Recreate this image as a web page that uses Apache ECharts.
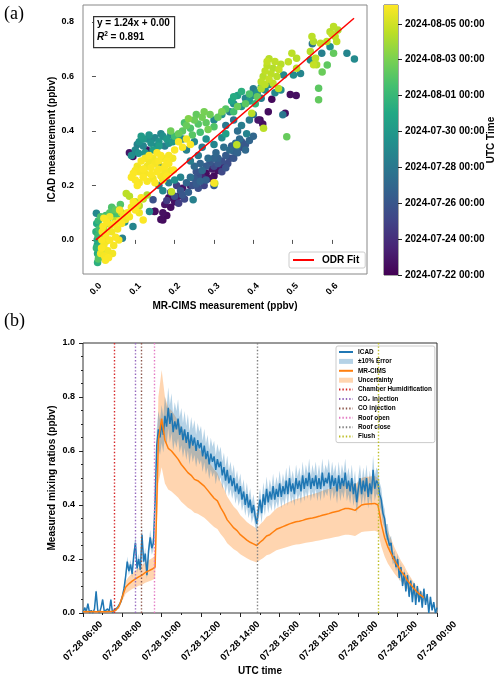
<!DOCTYPE html>
<html><head><meta charset="utf-8">
<script src="https://cdn.jsdelivr.net/npm/echarts@6/dist/echarts.min.js"></script>
<style>html,body{margin:0;padding:0;background:#fff}#c{width:500px;height:682px}</style>
</head><body><div id="c"></div>
<script>
const FONT = 'Liberation Sans, Arial, sans-serif';

// ---------- Panel (a): scatter MR-CIMS vs ICAD, coloured by time (days since 2024-07-22) ----------
const scatterXTicks = [0, 0.1, 0.2, 0.3, 0.4, 0.5, 0.6];
const scatterYTicks = [0, 0.2, 0.4, 0.6, 0.8];
const colorbarTickDays = [0, 2, 4, 6, 8, 10, 12, 14];
const colorbarTickLabels = ['2024-07-22 00:00','2024-07-24 00:00','2024-07-26 00:00','2024-07-28 00:00',
  '2024-07-30 00:00','2024-08-01 00:00','2024-08-03 00:00','2024-08-05 00:00'];
const colorbarMaxDay = 15.05;
const viridis = ['#440154','#482475','#414487','#355f8d','#2a788e','#21918c','#22a884','#44bf70','#7ad151','#bddf26','#fde725'];
const odrSlope = 1.24, odrIntercept = 0.00, odrR2 = 0.891;
const odrXRange = [0, 0.656];

// [MR-CIMS, ICAD, day]
const pointsPurple = [
 [0.165,0.075,0.5],[0.17,0.1,0.6],[0.18,0.09,0.4],[0.175,0.13,0.8],[0.19,0.12,0.5],[0.2,0.14,0.7],
 [0.185,0.155,0.3],[0.15,0.105,0.6],[0.21,0.16,1.0],[0.22,0.19,0.9],[0.24,0.2,1.2],[0.28,0.245,0.5],
 [0.29,0.225,0.7],[0.3,0.235,0.4],[0.31,0.255,0.6],[0.295,0.26,0.9],[0.27,0.23,1.5],[0.32,0.27,1.3],
 [0.094,0.306,0.5],[0.129,0.33,0.6],[0.085,0.32,0.9],
 [0.417,0.44,0.4],[0.424,0.425,0.6],[0.438,0.47,0.5],[0.447,0.516,0.3],[0.481,0.465,0.7],
 [0.494,0.534,0.5],[0.509,0.53,0.6],[0.412,0.44,1.0],[0.149,0.104,0.5],[0.17,0.073,0.4]
];
const pointsBlue = [
 [0.2,0.16,3.5],[0.215,0.18,4],[0.225,0.15,3.2],[0.235,0.175,4.5],[0.245,0.2,3.8],[0.23,0.21,5],
 [0.25,0.225,4.2],[0.26,0.19,3.6],[0.265,0.215,4.8],[0.275,0.2,3],[0.28,0.27,4.4],[0.255,0.25,3.9],
 [0.29,0.285,4.1],[0.3,0.27,3.4],[0.31,0.3,4.6],[0.32,0.29,3.7],[0.33,0.31,4.3],[0.34,0.33,5.2],
 [0.335,0.28,3.5],[0.35,0.3,4],[0.36,0.32,4.8],[0.37,0.34,3.6],[0.355,0.355,5.4],[0.345,0.345,4.5],
 [0.38,0.35,4.2],[0.24,0.23,5.5],[0.27,0.255,5.1],[0.205,0.2,2.8],[0.19,0.175,3.1],[0.18,0.145,2.6],
 [0.21,0.135,2.7],[0.32,0.25,3.3],[0.305,0.32,5],[0.285,0.3,5.3],[0.265,0.28,4.9],[0.25,0.27,5.2],
 [0.325,0.34,5.5],[0.365,0.37,5.3],[0.145,0.147,3.8],[0.3,0.2,4.4],
 [0.22,0.165,4],[0.26,0.235,3.7],[0.28,0.22,4.6],[0.31,0.28,4.2],[0.33,0.265,3.9],[0.35,0.325,4.7],
 [0.37,0.36,4.1],[0.39,0.365,4.9],[0.3,0.3,4.8],[0.255,0.205,4.3],[0.34,0.3,3.6],[0.38,0.33,5.1],
 [0.36,0.345,5.4],[0.4,0.38,5]
];
const pointsTeal = [
 [0.1,0.33,7],[0.11,0.36,7.5],[0.12,0.345,6.8],[0.13,0.37,7.2],[0.14,0.355,7.6],[0.15,0.375,7],
 [0.16,0.36,7.8],[0.17,0.38,7.4],[0.18,0.37,8],[0.19,0.385,7.1],[0.2,0.375,7.7],[0.115,0.38,8.2],
 [0.105,0.35,6.6],[0.145,0.33,8.4],[0.175,0.345,6.4],[0.125,0.32,7.9],
 [0.09,0.31,7.3],[0.135,0.385,7.8],[0.155,0.345,7.1],[0.165,0.39,6.9],[0.185,0.355,7.5],[0.195,0.36,8.1],
 [0.21,0.385,7.4],[0.22,0.37,7],[0.108,0.318,7.6],[0.12,0.37,8],[0.142,0.37,6.7],[0.16,0.345,8.3],
 [0.23,0.33,6.5],[0.25,0.36,7],[0.27,0.34,6.2],[0.28,0.37,7.5],[0.3,0.35,6.8],[0.32,0.375,7.2],
 [0.26,0.31,6],[0.24,0.29,6.3],[0.33,0.39,8.5],[0.383,0.39,6.7],
 [0.33,0.42,6],[0.35,0.44,5.8],[0.37,0.42,6.3],[0.36,0.4,5.5],[0.39,0.44,6.1],[0.4,0.46,5.6],
 [0.3,0.44,7],[0.32,0.46,7.5],[0.34,0.47,6.5],[0.35,0.5,7.2],[0.37,0.49,7.8],[0.38,0.52,6.8],
 [0.39,0.51,8.2],[0.4,0.53,7.1],[0.41,0.54,7.6],[0.42,0.52,6.4],[0.43,0.55,7.3],[0.36,0.53,8.6],
 [0.345,0.51,8.8],[0.44,0.57,7],[0.4,0.555,6.3],[0.475,0.459,6],[0.477,0.605,7],[0.502,0.605,7.3],
 [0.52,0.611,6.8],[0.545,0.66,7.2],[0.574,0.685,6.5],[0.595,0.709,7.5],[0.638,0.685,6.8],
 [0.657,0.664,7.1],[0.55,0.72,5.8],[0.455,0.54,7],[0.47,0.55,7.2],
 [0.001,0.098,7],[0.073,0.066,7.5],[0.067,0.006,6.5],[0.136,0.104,7.2],[0.094,0.049,6.8],
 [0.247,0.147,6.5],[0.16,0.2,6],[0.17,0.18,7],[0.185,0.21,6.3],[0.2,0.22,7.4],[0.215,0.23,6.7],[0.159,0.276,7]
];
const pointsGreen = [
 [0.002,0.06,9],[0.0,0.03,9.5],[0.003,0.0,9],[0.001,-0.03,9.8],[0.004,-0.05,9.2],[0.004,-0.083,9.5],
 [0.006,0.07,10],[0.008,0.04,10.5],[0.005,0.015,10.2],[0.01,-0.015,9.3],[0.007,-0.06,10],[0.012,0.085,10.8],
 [0.006,-0.07,11],[0.015,0.02,9.7],[0.013,-0.04,10.3],[0.003,-0.02,8.8],[0.009,0.05,8.5],
 [0.025,0.09,10.5],[0.035,0.1,11],[0.045,0.095,10.2],[0.05,0.11,11.3],[0.03,0.075,9.8],[0.055,0.085,10.6],
 [0.062,0.13,11],[0.04,0.12,10.8],
 [0.22,0.4,11.2],[0.23,0.42,11.5],[0.24,0.41,10.8],[0.25,0.44,11.6],[0.26,0.425,11],[0.27,0.45,11.8],
 [0.28,0.43,11.3],[0.29,0.46,11.7],[0.3,0.415,10.9],[0.31,0.45,11.4],[0.32,0.47,12],[0.245,0.385,11.1],
 [0.265,0.395,10.6],[0.285,0.405,11.9],[0.235,0.445,12.2],[0.21,0.39,11.5],[0.2,0.38,10.4],[0.19,0.4,11.7],
 [0.255,0.46,11.4],[0.275,0.47,11.9],[0.225,0.43,10.7],
 [0.33,0.48,11],[0.35,0.47,10.5],[0.36,0.49,11.6],[0.38,0.5,11.2],[0.39,0.535,10.8],[0.41,0.525,11.4],
 [0.42,0.56,10.2],[0.37,0.545,9.5],[0.35,0.525,9.2],[0.405,0.5,9.8],
 [0.485,0.379,11.5],[0.566,0.514,11.4],[0.566,0.557,11.2],[0.575,0.616,11.6],[0.588,0.642,11.3],[0.604,0.685,11.4]
];
const pointsYellowGreen = [
 [0.42,0.58,13.5],[0.425,0.6,13.4],[0.43,0.62,13.6],[0.435,0.64,13.5],[0.44,0.59,13.7],[0.445,0.61,13.5],
 [0.45,0.63,13.3],[0.455,0.655,13.6],[0.46,0.6,13.4],[0.465,0.625,13.7],[0.43,0.57,13.5],[0.44,0.665,13.4],
 [0.45,0.575,13.6],[0.464,0.556,13.5],[0.42,0.555,13.2],[0.435,0.655,13.7],[0.47,0.645,13.4],
 [0.604,0.783,13.5],[0.595,0.764,13.4],[0.608,0.746,13.6],[0.549,0.746,13.5],[0.553,0.728,13.3],[0.571,0.722,13.7],
 [0.587,0.728,13.5],[0.612,0.728,13.6],[0.545,0.691,13.4],[0.558,0.667,13.5],[0.553,0.643,13.7],[0.561,0.643,13.3],
 [0.498,0.685,13.5],[0.51,0.667,13.4],[0.489,0.654,13.6],[0.51,0.63,13.5],[0.6,0.755,13.7],[0.615,0.77,13.3],
 [0.396,0.465,13.5],[0.426,0.41,13.5],[0.302,0.208,13.5],[0.192,0.177,13.6],[0.085,0.16,13.4],[0.077,0.17,13.5],
 [0.1,0.14,13.4],[0.12,0.15,13.7],[0.11,0.125,13.5],[0.13,0.165,13.3],
 [0.03,0.06,13.2],[0.05,0.07,13.4],[0.065,0.1,13.6],[0.02,0.04,13.3],[0.358,0.349,13.5]
];
const pointsYellow = [
 [0.015,0.0,15],[0.02,-0.02,14.9],[0.025,0.02,15],[0.03,-0.04,14.8],[0.018,0.05,15],[0.022,-0.06,14.9],
 [0.035,0.0,15],[0.04,0.03,14.8],[0.028,0.065,15],[0.045,-0.02,14.9],[0.05,0.01,15],[0.038,0.055,14.7],
 [0.032,-0.065,15],[0.012,-0.05,14.8],[0.02,0.08,15],[0.055,0.04,14.9],[0.06,0.07,15],[0.042,-0.05,14.8],
 [0.016,0.03,14.9],[0.026,-0.005,14.7],[0.048,0.06,15],[0.035,0.085,14.8],[0.058,0.0,14.9],[0.024,-0.075,15],
 [0.014,-0.03,15],
 [0.065,0.06,15],[0.07,0.09,14.8],[0.08,0.1,15],[0.09,0.12,14.9],[0.075,0.075,14.7],[0.1,0.11,15],
 [0.085,0.085,14.9],[0.11,0.1,14.8],[0.12,0.073,15],[0.095,0.14,15],[0.105,0.13,14.8],[0.06,0.11,14.9],[0.115,0.155,15],
 [0.1,0.22,15],[0.11,0.25,14.9],[0.12,0.23,15],[0.13,0.27,14.8],[0.14,0.24,15],[0.15,0.28,14.9],
 [0.16,0.26,15],[0.17,0.3,14.7],[0.18,0.29,15],[0.125,0.3,14.9],[0.135,0.31,15],[0.145,0.3,14.8],
 [0.155,0.32,15],[0.165,0.235,14.9],[0.175,0.27,15],[0.105,0.27,14.8],[0.115,0.29,15],[0.185,0.31,14.9],
 [0.095,0.245,15],[0.19,0.255,14.8],[0.13,0.215,14.9],[0.15,0.21,15],[0.17,0.22,14.8],[0.12,0.26,15],
 [0.105,0.2,15],[0.125,0.245,14.9],[0.14,0.265,15],[0.145,0.225,14.8],[0.16,0.29,15],[0.175,0.25,14.9],
 [0.185,0.28,15],[0.195,0.3,14.8],[0.155,0.25,15],[0.11,0.21,14.9],[0.135,0.29,14.8],[0.165,0.31,15],
 [0.1,0.255,14.9],[0.09,0.23,15],[0.18,0.235,15],
 [0.2,0.33,15],[0.21,0.36,14.9],[0.22,0.34,15],[0.23,0.37,14.8],[0.197,0.257,15],[0.3,0.21,14.9],[0.24,0.35,15]
];

// ---------- Panel (b): time series on 2024-07-28 (hours of day) ----------
const timeTickHours = [6, 8, 10, 12, 14, 16, 18, 20, 22, 24];
const timeTickLabels = ['07-28 06:00','07-28 08:00','07-28 10:00','07-28 12:00','07-28 14:00',
  '07-28 16:00','07-28 18:00','07-28 20:00','07-28 22:00','07-29 00:00'];
const icadStartHour = 6, icadStepMin = 5;
const icadValues = [
 0.0,0.02,0.005,0.035,0.0,0.01,0.0,0.015,0.08,0.01,0.0,0.02,
 0.05,0.005,0.0,0.015,0.005,0.05,0.0,0.012,0.005,0.02,0.015,0.04,
 0.06,0.09,0.135,0.19,0.155,0.18,0.145,0.215,0.26,0.165,0.2,0.16,
 0.29,0.19,0.22,0.14,0.23,0.28,0.24,0.26,0.42,0.62,0.68,0.65,
 0.70,0.66,0.73,0.69,0.76,0.70,0.74,0.67,0.71,0.68,0.72,0.66,
 0.69,0.64,0.68,0.63,0.67,0.61,0.66,0.62,0.65,0.60,0.64,0.61,
 0.63,0.58,0.62,0.57,0.60,0.55,0.59,0.56,0.58,0.53,0.57,0.54,
 0.56,0.51,0.54,0.49,0.53,0.48,0.51,0.47,0.50,0.45,0.48,0.44,
 0.47,0.42,0.45,0.40,0.44,0.39,0.42,0.37,0.40,0.36,0.33,0.38,
 0.42,0.37,0.44,0.40,0.46,0.41,0.45,0.42,0.47,0.42,0.46,0.43,
 0.48,0.43,0.47,0.44,0.49,0.44,0.50,0.45,0.48,0.44,0.50,0.46,
 0.49,0.45,0.51,0.46,0.50,0.47,0.52,0.46,0.50,0.47,0.51,0.46,
 0.50,0.46,0.52,0.47,0.50,0.48,0.52,0.46,0.51,0.47,0.50,0.45,
 0.51,0.46,0.50,0.47,0.52,0.46,0.49,0.45,0.50,0.44,0.48,0.41,
 0.46,0.50,0.44,0.49,0.45,0.50,0.43,0.48,0.44,0.53,0.46,0.49,
 0.48,0.44,0.42,0.37,0.35,0.30,0.30,0.25,0.26,0.20,0.21,0.17,
 0.20,0.13,0.17,0.10,0.15,0.08,0.14,0.06,0.12,0.04,0.11,0.03,
 0.10,0.04,0.08,0.02,0.09,0.03,0.07,0.00,0.06,0.01,0.04,0.00,
 0.02
];
const mrcimsStartHour = 6, mrcimsStepMin = 10;
const mrcimsValues = [
 0.005,0.006,0.005,0.006,0.005,0.006,0.005,0.005,0.006,0.006,
 0.01,0.025,
 0.06,0.095,0.108,0.118,0.126,0.134,
 0.14,0.15,0.156,0.162,0.17,0.64,
 0.72,0.64,0.61,0.60,0.585,0.57,
 0.55,0.535,0.52,0.51,0.495,0.49,
 0.48,0.47,0.455,0.44,0.425,0.415,
 0.39,0.37,0.345,0.33,0.315,0.305,
 0.29,0.28,0.27,0.262,0.256,0.25,
 0.262,0.272,0.285,0.29,0.30,0.31,
 0.315,0.32,0.325,0.33,0.334,0.338,
 0.34,0.343,0.347,0.35,0.352,0.355,
 0.358,0.362,0.365,0.368,0.372,0.375,
 0.378,0.383,0.387,0.387,0.384,0.38,
 0.39,0.40,0.403,0.404,0.405,0.406,
 0.40,0.33,0.28,0.245,0.22,0.195,
 0.175,0.155,0.14,0.12,0.105,0.09,
 0.077,0.066,0.057
];
const icadErrFrac = 0.10;
const mrcimsUncFrac = 0.25;
const eventNames = ['Chamber Humidification','CO₂ injection','CO injection','Roof open','Roof close','Flush'];
const eventHours = [7.6, 8.68, 8.97, 9.63, 14.88, 21.0];
const eventColors = ['#d62728','#9467bd','#8c564b','#e377c2','#7f7f7f','#bcbd22'];

// ---------- build ----------
const scatterData = [].concat(pointsPurple, pointsBlue, pointsTeal, pointsGreen, pointsYellowGreen, pointsYellow)
  .sort((a, b) => a[2] - b[2]);
const odrLine = odrXRange.map(x => [x, odrIntercept + odrSlope * x]);
const icadT = icadValues.map((v, i) => icadStartHour + i * icadStepMin / 60);
const mrT = mrcimsValues.map((v, i) => mrcimsStartHour + i * mrcimsStepMin / 60);

const icadLine = icadValues.map((v, i) => [icadT[i], v]);
const mrLine = mrcimsValues.map((v, i) => [mrT[i], v]);
const icadBandData = icadValues.map((v, i) => [icadT[i], v * (1 - icadErrFrac), v * (1 + icadErrFrac)]);
const mrBandData = mrcimsValues.map((v, i) => [mrT[i], v * (1 - mrcimsUncFrac), v * (1 + mrcimsUncFrac)]);

const txt = (size, extra) => Object.assign({ fontFamily: FONT, fontWeight: 'bold', fontSize: size, color: '#000' }, extra || {});
const blueBand = 'rgba(31,119,180,0.33)';
const orangeBand = 'rgba(255,127,14,0.33)';

function bandSeries(name, data, color) {
  return {
    name, type: 'custom', xAxisIndex: 2, yAxisIndex: 2, data, silent: true,
    encode: { x: 0, y: [1, 2] }, itemStyle: { color },
    renderItem: (params, api) => {
      if (params.dataIndex !== 0) return null;
      const pts = [];
      for (let i = 0; i < data.length; i++) pts.push(api.coord([data[i][0], data[i][2]]));
      for (let i = data.length - 1; i >= 0; i--) pts.push(api.coord([data[i][0], data[i][1]]));
      return { type: 'polygon', shape: { points: pts }, style: { fill: color } };
    }
  };
}

const eventSeries = eventNames.map((n, i) => ({
  name: n, type: 'line', xAxisIndex: 2, yAxisIndex: 2, data: [], symbol: 'none',
  color: eventColors[i],
  lineStyle: { color: eventColors[i], type: [1.4, 2], width: 1.4 },
  markLine: { symbol: 'none', silent: true, label: { show: false },
    lineStyle: { color: eventColors[i], type: [1.4, 2], width: 1.4 },
    data: [{ xAxis: eventHours[i] }] }
}));

const noSym = { opacity: 0 };
const chart = echarts.init(document.getElementById('c'), null, { renderer: 'canvas' });
chart.setOption({
  animation: false,
  backgroundColor: '#fff',
  grid: [
    { left: 83, top: 5, width: 284, height: 269, show: true, borderColor: '#888', borderWidth: 1, backgroundColor: 'transparent' },
    { left: 384, top: 5, width: 14, height: 270, show: true, borderColor: '#222', borderWidth: 0.8, backgroundColor: 'transparent' },
    { left: 83, top: 343, width: 354, height: 270, show: true, borderColor: '#333', borderWidth: 1, backgroundColor: 'transparent' }
  ],
  xAxis: [
    { gridIndex: 0, type: 'value', min: -0.033, max: 0.689, splitLine: { show: false },
      axisLine: { show: false },
      axisTick: { show: true, length: 4, lineStyle: { color: '#555' }, customValues: scatterXTicks },
      axisLabel: { customValues: scatterXTicks, rotate: 45, align: 'center', verticalAlign: 'middle', margin: 15,
        formatter: v => v.toFixed(1), ...txt(9) },
      name: 'MR-CIMS measurement (ppbv)', nameLocation: 'middle', nameGap: 27, nameMoveOverlap: false, nameTextStyle: txt(10) },
    { gridIndex: 1, type: 'category', data: [''], show: false, boundaryGap: true },
    { gridIndex: 2, type: 'value', min: 6, max: 24, interval: 2, splitLine: { show: false },
      axisLine: { show: false },
      axisTick: { show: true, length: 4, lineStyle: { color: '#222' } },
      minorTick: { show: true, splitNumber: 2, length: 2, lineStyle: { color: '#222' } },
      axisLabel: { rotate: 45, align: 'center', verticalAlign: 'middle', margin: 28,
        formatter: v => { const k = timeTickHours.indexOf(v); return k >= 0 ? timeTickLabels[k] : ''; }, ...txt(9.5) },
      name: 'UTC time', nameLocation: 'middle', nameGap: 53, nameMoveOverlap: false, nameTextStyle: txt(10) }
  ],
  yAxis: [
    { gridIndex: 0, type: 'value', min: -0.125, max: 0.862, splitLine: { show: false },
      axisLine: { show: false },
      axisTick: { show: true, length: 4, lineStyle: { color: '#555' }, customValues: scatterYTicks },
      axisLabel: { customValues: scatterYTicks, margin: 9, formatter: v => v.toFixed(1), ...txt(9) },
      name: 'ICAD measurement (ppbv)', nameLocation: 'middle', nameGap: 26, nameRotate: 90, nameMoveOverlap: false, nameTextStyle: txt(10) },
    { gridIndex: 1, type: 'value', min: 0, max: colorbarMaxDay, position: 'right', splitLine: { show: false },
      axisLine: { show: false },
      axisTick: { show: true, length: 4, lineStyle: { color: '#222' }, customValues: colorbarTickDays },
      axisLabel: { customValues: colorbarTickDays, margin: 7,
        formatter: v => { const k = colorbarTickDays.indexOf(v); return k >= 0 ? colorbarTickLabels[k] : ''; }, ...txt(10) },
      name: 'UTC Time', nameLocation: 'middle', nameGap: 88, nameRotate: 90, nameMoveOverlap: false, nameTextStyle: txt(10) },
    { gridIndex: 2, type: 'value', min: 0, max: 1, interval: 0.2, splitLine: { show: false },
      axisLine: { show: false },
      axisTick: { show: true, length: 4, lineStyle: { color: '#222' } },
      minorTick: { show: true, splitNumber: 4, length: 2, lineStyle: { color: '#222' } },
      axisLabel: { margin: 8, formatter: v => v.toFixed(1), ...txt(9) },
      name: 'Measured mixing ratios (ppbv)', nameLocation: 'middle', nameGap: 26, nameRotate: 90, nameMoveOverlap: false, nameTextStyle: txt(10) }
  ],
  visualMap: [{ type: 'continuous', show: false, seriesIndex: 0, dimension: 2, min: 0, max: colorbarMaxDay,
    inRange: { color: viridis } }],
  legend: [
    { data: [{ name: 'ODR Fit', itemStyle: noSym }], left: 289, top: 252, orient: 'horizontal', selectedMode: false,
      itemWidth: 21, itemHeight: 8, padding: [3, 6, 3, 3], itemGap: 5,
      backgroundColor: '#fff', borderColor: '#ccc', borderWidth: 1, borderRadius: 2,
      textStyle: txt(10, { padding: [0, 0, 0, 3] }) },
    { data: [
        { name: 'ICAD', itemStyle: noSym },
        { name: '±10% Error', icon: 'rect', itemStyle: { color: blueBand } },
        { name: 'MR-CIMS', itemStyle: noSym },
        { name: 'Uncertainty', icon: 'rect', itemStyle: { color: orangeBand } }
      ].concat(eventNames.map(n => ({ name: n, itemStyle: noSym }))),
      left: 336, top: 346, orient: 'vertical', selectedMode: false,
      itemWidth: 14, itemHeight: 5, itemGap: 3.4, padding: [3, 3, 3, 2],
      backgroundColor: '#fff', borderColor: '#ccc', borderWidth: 1, borderRadius: 2,
      textStyle: txt(6.4) }
  ],
  series: [
    { name: 'points', type: 'scatter', xAxisIndex: 0, yAxisIndex: 0, data: scatterData,
      symbolSize: 7.5, itemStyle: { opacity: 1 } },
    { name: 'ODR Fit', type: 'line', xAxisIndex: 0, yAxisIndex: 0, data: odrLine, symbol: 'none',
      color: '#ff0000', lineStyle: { color: '#ff0000', width: 1.5 }, z: 3 },
    { name: 'colorbar', type: 'bar', xAxisIndex: 1, yAxisIndex: 1, data: [colorbarMaxDay], barWidth: '100%',
      itemStyle: { color: { type: 'linear', x: 0, y: 1, x2: 0, y2: 0,
        colorStops: viridis.map((c, i) => ({ offset: i / (viridis.length - 1), color: c })) } } },
    bandSeries('Uncertainty', mrBandData, orangeBand),
    bandSeries('±10% Error', icadBandData, blueBand),
    { name: 'ICAD', type: 'line', xAxisIndex: 2, yAxisIndex: 2, data: icadLine, symbol: 'none',
      color: '#1f77b4', lineStyle: { color: '#1f77b4', width: 1.5 } },
    { name: 'MR-CIMS', type: 'line', xAxisIndex: 2, yAxisIndex: 2, data: mrLine, symbol: 'none',
      color: '#ff7f0e', lineStyle: { color: '#ff7f0e', width: 1.5 } }
  ].concat(eventSeries),
  graphic: [
    { type: 'text', left: 4, top: 5, style: { text: '(a)', fontFamily: 'Liberation Serif, Times New Roman, serif', fontSize: 18, fill: '#000' } },
    { type: 'text', left: 4, top: 312, style: { text: '(b)', fontFamily: 'Liberation Serif, Times New Roman, serif', fontSize: 18, fill: '#000' } },
    { type: 'rect', left: 93, top: 16, shape: { width: 81, height: 31 }, style: { fill: '#fff', stroke: '#333', lineWidth: 1.2 }, z: 10 },
    { type: 'text', left: 97, top: 18, z: 11, style: { text: 'y = ' + odrSlope.toFixed(2) + 'x + ' + odrIntercept.toFixed(2),
      fontFamily: FONT, fontWeight: 'bold', fontSize: 10, fill: '#000' } },
    { type: 'text', left: 97, top: 31, z: 11, style: { text: '{i|R}{s|2}{n| = ' + odrR2.toFixed(3) + '}',
      rich: { i: { fontFamily: FONT, fontWeight: 'bold', fontStyle: 'italic', fontSize: 10, fill: '#000' },
              s: { fontFamily: FONT, fontWeight: 'bold', fontSize: 6.5, fill: '#000', padding: [0, 0, 6, 0] },
              n: { fontFamily: FONT, fontWeight: 'bold', fontSize: 10, fill: '#000' } } } }
  ]
});
</script></body></html>
